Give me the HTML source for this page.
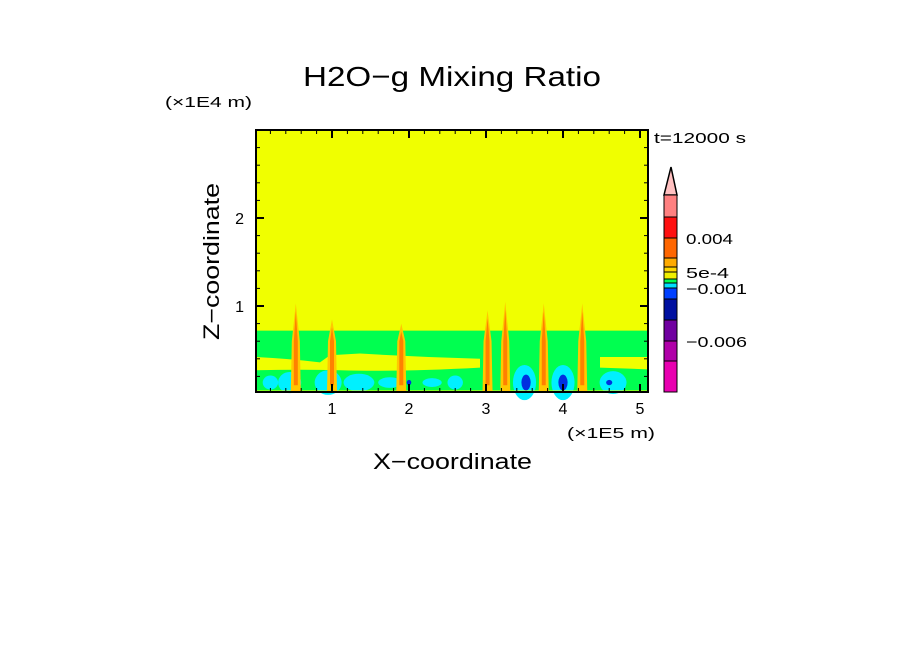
<!DOCTYPE html>
<html><head><meta charset="utf-8"><style>
body{margin:0;background:#fff;width:904px;height:654px;overflow:hidden}
svg{display:block}
text{font-family:"Liberation Sans",sans-serif;fill:#000}
</style></head><body>
<svg id="c" width="904" height="654" xmlns="http://www.w3.org/2000/svg">
<text x="303" y="86" font-size="28" textLength="298" lengthAdjust="spacingAndGlyphs">H2O−g Mixing Ratio</text>
<text x="165" y="107" font-size="15" textLength="87" lengthAdjust="spacingAndGlyphs">(×1E4 m)</text>
<text x="567" y="438" font-size="15" textLength="88" lengthAdjust="spacingAndGlyphs">(×1E5 m)</text>
<text x="373" y="469" font-size="22" textLength="159" lengthAdjust="spacingAndGlyphs">X−coordinate</text>
<text x="219" y="340" font-size="22" textLength="157" lengthAdjust="spacingAndGlyphs" transform="rotate(-90 219 340)">Z−coordinate</text>
<text x="654" y="143" font-size="15" textLength="92" lengthAdjust="spacingAndGlyphs">t=12000 s</text>
<g id="field"></g><g id="axes"></g><g id="cbar"></g>
</svg>
<script>
const xTicks=[1,2,3,4,5];
const zTicks=[1,2];
const plumeX=[0.53,1.0,1.9,3.02,3.25,3.75,4.25];
const plumeTop=[1.03,0.85,0.8,0.95,1.05,1.03,1.03];
const cyanX=[0.45,0.95,1.35,2.6,3.5,4.0,4.65,0.2,1.75,2.3];
const cyanW=[0.3,0.35,0.4,0.2,0.3,0.3,0.35,0.2,0.3,0.25];
const cyanH=[0.12,0.14,0.1,0.08,0.2,0.2,0.13,0.08,0.06,0.05];
const blueX=[3.52,4.0,2.0,1.0,4.6];
const blueW=[0.06,0.06,0.03,0.04,0.04];
const blueH=[0.09,0.09,0.03,0.03,0.03];
const cbColors=["#ff8080","#ff1010","#ff6600","#ffaa00","#ffd700","#f0f000","#00ff50","#00e0ff","#0040ff","#0010a0","#7000a0","#b000a8","#e800b0"];
const cbEdges=[195,217,238,258,267,272,279,283,288,299,320,341,361,392];
const cbLabels=["0.004","5e-4","−0.001","−0.006"];
const cbLabelY=[238,272,288,341];
const cbLabelW=[47,43,61,61];
const X=v=>255+v*77, Z=v=>394-v*88;
const ns="http://www.w3.org/2000/svg";
function mk(p,t,a){const e=document.createElementNS(ns,t);for(const k in a)e.setAttribute(k,a[k]);p.appendChild(e);return e;}
const f=document.getElementById('field');
let e=mk(f,'rect',{x:256,y:130,width:392,height:262,fill:'#f0ff00'});

e=mk(f,'rect',{x:256,y:Z(0.72),width:392,height:392-Z(0.72),fill:'#00ff50'});

e=mk(f,'path',{d:`M256 ${Z(0.42)} Q290 ${Z(0.4)} 320 ${Z(0.36)} L330 ${Z(0.44)} L360 ${Z(0.46)} Q420 ${Z(0.42)} 480 ${Z(0.4)} L480 ${Z(0.3)} Q400 ${Z(0.25)} 340 ${Z(0.27)} Q300 ${Z(0.28)} 256 ${Z(0.27)}Z M600 ${Z(0.42)} L648 ${Z(0.42)} L648 ${Z(0.28)} L600 ${Z(0.3)}Z`,fill:'#f0ff00'});

cyanX.forEach((v,i)=>{const r=mk(f,'ellipse',{cx:X(v),cy:Z(0.13),rx:cyanW[i]*77/2,ry:cyanH[i]*88,fill:'#00f0ff'});
});
blueX.forEach((v,i)=>{const r=mk(f,'ellipse',{cx:X(v),cy:Z(0.13),rx:blueW[i]*77,ry:blueH[i]*88,fill:'#0030e0'});
});
e=mk(f,'rect',{x:256,y:Z(0.04),width:392,height:392-Z(0.04),fill:'#f0ff00'});

plumeX.forEach((v,i)=>{const x=X(v),t=Z(plumeTop[i]);
const g=mk(f,'polygon',{points:`${x},${t} ${x+4},${Z(0.6)} ${x+5},392 ${x-5},392 ${x-4},${Z(0.6)}`,fill:'#ffc800'});

const o=mk(f,'polygon',{points:`${x},${t+8} ${x+2},${Z(0.6)} ${x+2},${Z(0.1)} ${x-2},${Z(0.1)} ${x-2},${Z(0.6)}`,fill:'#ff8000'});
});
const a=document.getElementById('axes');
e=mk(a,'rect',{x:256,y:130,width:392,height:262,fill:'none',stroke:'#000','stroke-width':2});

for(let v=0.2;v<5.15;v+=0.2){const x=X(v),maj=Math.abs(v-Math.round(v))<0.01,L=maj?8:4;
mk(a,'line',{x1:x,x2:x,y1:392,y2:392-L,stroke:'#000','stroke-width':maj?2:1});
mk(a,'line',{x1:x,x2:x,y1:130,y2:130+L,stroke:'#000','stroke-width':maj?2:1});}
for(let v=0.2;v<2.99;v+=0.2){const y=Z(v),maj=Math.abs(v-Math.round(v))<0.01,L=maj?8:4;
mk(a,'line',{x1:256,x2:256+L,y1:y,y2:y,stroke:'#000','stroke-width':maj?2:1});
mk(a,'line',{x1:648,x2:648-L,y1:y,y2:y,stroke:'#000','stroke-width':maj?2:1});}
xTicks.forEach(v=>{const t=mk(a,'text',{x:X(v),y:414,'font-size':16,'text-anchor':'middle'});t.textContent=v;
});
zTicks.forEach(v=>{const t=mk(a,'text',{x:244,y:Z(v)+6,'font-size':16,'text-anchor':'end'});t.textContent=v;
});
const c=document.getElementById('cbar');
e=mk(c,'polygon',{points:'671,167 677,195 664,195',fill:'#ffc0c0',stroke:'#000','stroke-width':1.5});

cbColors.forEach((col,i)=>{const r=mk(c,'rect',{x:664,y:cbEdges[i],width:13,height:cbEdges[i+1]-cbEdges[i],fill:col,stroke:'#000','stroke-width':1});
});
cbLabels.forEach((l,i)=>{const t=mk(c,'text',{x:686,y:cbLabelY[i]+6,'font-size':15,textLength:cbLabelW[i],lengthAdjust:'spacingAndGlyphs'});t.textContent=l;
});
</script>
</body></html>
